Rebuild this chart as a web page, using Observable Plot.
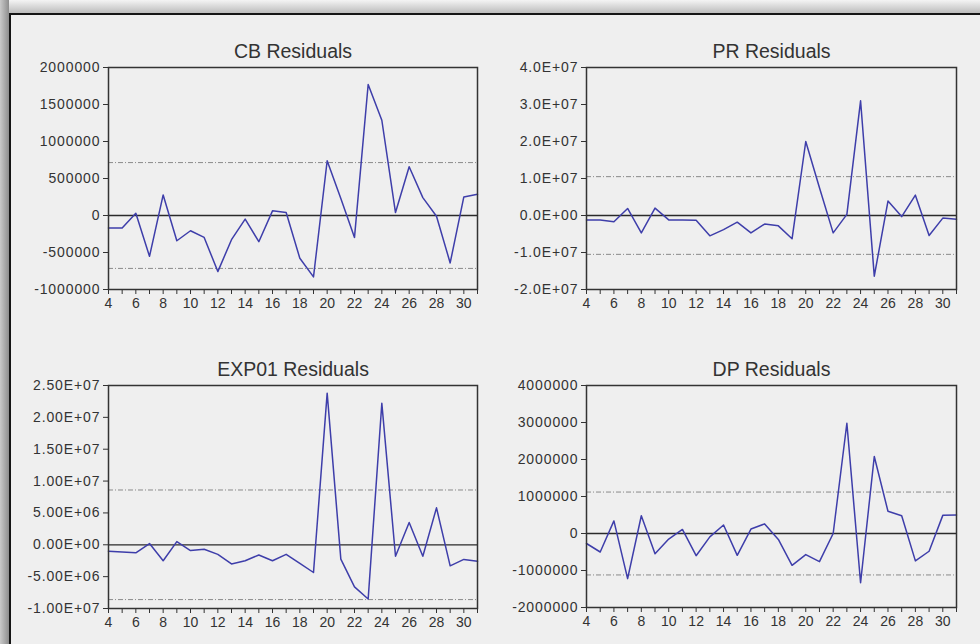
<!DOCTYPE html>
<html>
<head>
<meta charset="utf-8">
<script src="https://cdn.jsdelivr.net/npm/d3@7"></script>
<script src="https://cdn.jsdelivr.net/npm/@observablehq/plot@0.6"></script>
<style>
  html, body { margin: 0; padding: 0; width: 980px; height: 644px; overflow: hidden; background: #b5b5b5; }
  #top { position: absolute; left: 0; top: 0; width: 980px; height: 13px; background: linear-gradient(to bottom, #f4f4f4, #bcbcbc); }
  #left { position: absolute; left: 0; top: 0; width: 9px; height: 644px; background: linear-gradient(to right, #c9c9c9, #8d8d8d); }
  #box { position: absolute; left: 9px; top: 13px; width: 990px; height: 660px; border-top: 2px solid #151515; border-left: 2px solid #151515; background: #efefef; }
  .panel { position: absolute; }
  .panel svg g[aria-label^="y-axis"] text { letter-spacing: 0.9px; }
</style>
</head>
<body>
<div id="top"></div>
<div id="left"></div>
<div id="box"></div>
<div id="p1" class="panel" style="left:0px;top:20px"></div>
<div id="p2" class="panel" style="left:490px;top:20px"></div>
<div id="p3" class="panel" style="left:0px;top:338px"></div>
<div id="p4" class="panel" style="left:490px;top:338px"></div>
<script>
// Observation index (x axis)
const periods = [4,5,6,7,8,9,10,11,12,13,14,15,16,17,18,19,20,21,22,23,24,25,26,27,28,29,30,31];
const xTicks = [4,5,6,7,8,9,10,11,12,13,14,15,16,17,18,19,20,21,22,23,24,25,26,27,28,29,30,31];

// CB residuals
const cbResiduals = [-170000,-170000,31000,-552000,278000,-341000,-206000,-296000,-758000,-327000,-49000,-354000,63000,40000,-578000,-830000,740000,230000,-296000,1771000,1287000,40000,659000,242000,-10000,-641000,251000,287000];
const cbBand = 715000;
const cbTicks = [-1000000,-500000,0,500000,1000000,1500000,2000000];
const cbTickLabels = ["-1000000","-500000","0","500000","1000000","1500000","2000000"];

// PR residuals
const prResiduals = [-1200000,-1200000,-1700000,1900000,-4700000,2000000,-1200000,-1200000,-1300000,-5500000,-3800000,-1800000,-4700000,-2300000,-2800000,-6300000,20000000,7500000,-4700000,300000,31000000,-16400000,3900000,-300000,5500000,-5400000,-700000,-1000000];
const prBand = 10500000;
const prTicks = [-20000000,-10000000,0,10000000,20000000,30000000,40000000];
const prTickLabels = ["-2.0E+07","-1.0E+07","0.0E+00","1.0E+07","2.0E+07","3.0E+07","4.0E+07"];

// EXP01 residuals
const expResiduals = [-1000000,-1150000,-1260000,200000,-2500000,500000,-900000,-700000,-1500000,-3000000,-2500000,-1600000,-2500000,-1500000,-2900000,-4350000,23800000,-2250000,-6600000,-8500000,22200000,-1800000,3500000,-1800000,5800000,-3300000,-2300000,-2600000];
const expBand = 8600000;
const expTicks = [-10000000,-5000000,0,5000000,10000000,15000000,20000000,25000000];
const expTickLabels = ["-1.00E+07","-5.00E+06","0.00E+00","5.00E+06","1.00E+07","1.50E+07","2.00E+07","2.50E+07"];

// DP residuals
const dpResiduals = [-270000,-500000,340000,-1220000,480000,-550000,-150000,110000,-600000,-90000,230000,-590000,120000,260000,-160000,-860000,-570000,-760000,0,2980000,-1330000,2080000,600000,480000,-740000,-480000,490000,500000];
const dpBand = 1120000;
const dpTicks = [-2000000,-1000000,0,1000000,2000000,3000000,4000000];
const dpTickLabels = ["-2000000","-1000000","0","1000000","2000000","3000000","4000000"];

const titles = ["CB Residuals","PR Residuals","EXP01 Residuals","DP Residuals"];

function panel(title, values, band, ticks, labels, m) {
  const data = periods.map((p, i) => ({p, v: values[i]}));
  const labelOf = new Map(ticks.map((t, i) => [t, labels[i]]));
  return Plot.plot({
    width: 490,
    height: 300,
    marginLeft: m.left,
    marginRight: m.right,
    marginTop: m.top,
    marginBottom: m.bottom,
    style: {fontFamily: "'Liberation Sans', Arial, sans-serif", fontSize: "14px", color: "#333", background: "transparent", overflow: "visible"},
    x: {domain: [4, 31], ticks: xTicks, tickFormat: d => (d % 2 === 0 ? String(d) : ""), tickSize: 5, tickPadding: 4, label: null},
    y: {domain: [ticks[0], ticks[ticks.length - 1]], ticks: ticks, tickFormat: d => labelOf.get(d), tickSize: 5, tickPadding: 3, label: null},
    marks: [
      Plot.ruleY([-band, band], {stroke: "#8a8a8a", strokeWidth: 1, strokeDasharray: "5,2,1,2"}),
      Plot.ruleY([0], {stroke: "#2a2a2a", strokeWidth: 1.3}),
      Plot.line(data, {x: "p", y: "v", stroke: "#3e3eaa", strokeWidth: 1.5}),
      Plot.frame({stroke: "#333", strokeWidth: 1.5}),
      Plot.text([title], {text: d => d, frameAnchor: "top", dy: -23, fontSize: 19.5, fill: "#333"})
    ]
  });
}

document.getElementById("p1").appendChild(panel(titles[0], cbResiduals, cbBand, cbTicks, cbTickLabels, {left: 108, right: 13, top: 47, bottom: 31}));
document.getElementById("p2").appendChild(panel(titles[1], prResiduals, prBand, prTicks, prTickLabels, {left: 96, right: 24, top: 47, bottom: 31}));
document.getElementById("p3").appendChild(panel(titles[2], expResiduals, expBand, expTicks, expTickLabels, {left: 108, right: 13, top: 47, bottom: 30}));
document.getElementById("p4").appendChild(panel(titles[3], dpResiduals, dpBand, dpTicks, dpTickLabels, {left: 96, right: 24, top: 47, bottom: 31}));
</script>
</body>
</html>
